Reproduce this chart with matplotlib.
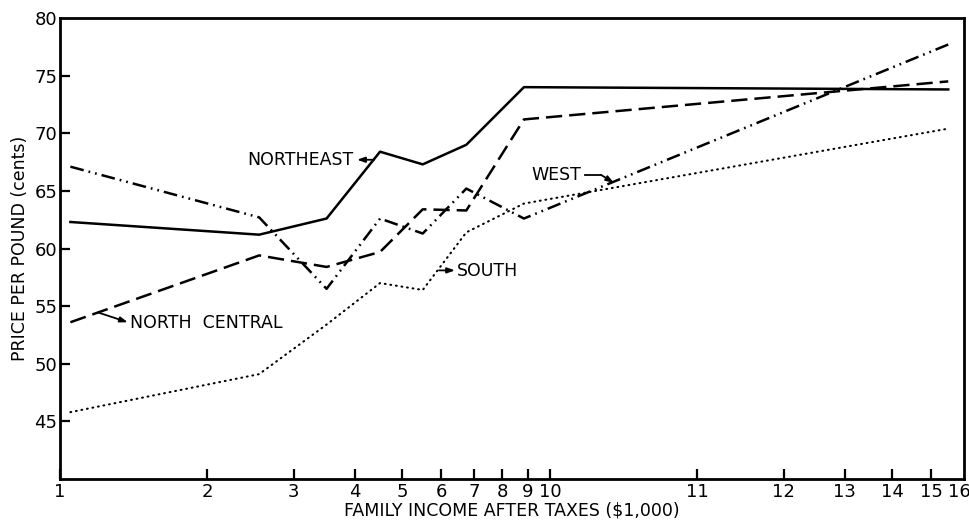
"""Price per pound vs. family income after taxes, by region."""
import matplotlib

matplotlib.use("Agg")
import matplotlib.pyplot as plt
from matplotlib.ticker import FixedLocator, FixedFormatter, NullLocator
from matplotlib.transforms import ScaledTranslation

# income class midpoints ($1,000) -- the axis is logarithmic
income = [1.05, 2.55, 3.5, 4.5, 5.5, 6.75, 8.85, 65]

northeast = [62.3, 61.2, 62.6, 68.4, 67.3, 69.0, 74.0, 73.8]
north_central = [53.6, 59.4, 58.4, 59.7, 63.4, 63.3, 71.2, 74.5]
west = [67.1, 62.7, 56.5, 62.6, 61.3, 65.2, 62.6, 77.7]
south = [45.8, 49.1, 53.4, 57.0, 56.4, 61.4, 63.9, 70.4]

# tick positions on the log axis and the labels printed under them
x_ticks = [1, 2, 3, 4, 5, 6, 7, 8, 9, 10, 20, 30, 40, 50, 60, 70]
x_labels = ["1", "2", "3", "4", "5", "6", "7", "8", "9", "10",
            "11", "12", "13", "14", "15", "16"]
y_ticks = [45, 50, 55, 60, 65, 70, 75, 80]

plt.rcParams["font.family"] = "DejaVu Sans"

fig = plt.figure(figsize=(9.69, 5.2), dpi=100)
ax = fig.add_axes([60 / 969, 41 / 520, 904 / 969, 461 / 520])

lw = 1.8
ax.plot(income, northeast, color="black", lw=lw)
ax.plot(income, north_central, color="black", lw=lw, linestyle=(0, (6.5, 2.8)))
ax.plot(income, west, color="black", lw=lw,
        linestyle=(0, (5.5, 2, 0.7, 2, 0.7, 2)))
ax.plot(income, south, color="black", lw=1.5, linestyle=(0, (0.4, 2.3)),
        dash_capstyle="round")

ax.set_xscale("log")
ax.set_xlim(1, 70)
ax.set_ylim(40, 80)
ax.xaxis.set_major_locator(FixedLocator(x_ticks))
ax.xaxis.set_major_formatter(FixedFormatter(x_labels))
ax.xaxis.set_minor_locator(NullLocator())
ax.set_yticks(y_ticks)

ax.tick_params(axis="both", direction="in", length=7, width=1.6,
               labelsize=13, colors="black")
ax.tick_params(axis="x", pad=3)
ax.tick_params(axis="y", pad=2)
# no tick mark at the right edge (16) or the top (80)
ax.xaxis.get_major_ticks()[-1].tick1line.set_visible(False)
ax.yaxis.get_major_ticks()[-1].tick1line.set_visible(False)

for s in ax.spines.values():
    s.set_linewidth(2.0)

ax.set_xlabel("FAMILY INCOME AFTER TAXES ($1,000)", fontsize=12.5, labelpad=0)
ax.set_ylabel("PRICE PER POUND (cents)", fontsize=12.5, labelpad=4)

label_kw = dict(fontsize=12.5, va="center", color="black")
arrow_kw = dict(arrowstyle="-|>,head_length=0.45,head_width=0.16",
                color="black", lw=1.3, shrinkA=0, shrinkB=0)

# region labels with leader arrows
ax.text(3.97, 67.7, "NORTHEAST", ha="right", **label_kw)
ax.annotate("", xy=(4.04, 67.7), xytext=(4.38, 67.7), arrowprops=arrow_kw)

ax.text(11.6, 66.4, "WEST", ha="right", **label_kw)
ax.plot([11.8, 12.7], [66.4, 66.4], color="black", lw=1.3)
ax.annotate("", xy=(13.5, 65.7), xytext=(12.7, 66.4), arrowprops=arrow_kw)

ax.text(6.46, 58.05, "SOUTH", ha="left", **label_kw)
ax.annotate("", xy=(6.40, 58.1), xytext=(5.94, 58.1), arrowprops=arrow_kw)

ax.text(1.39, 53.55, "NORTH  CENTRAL", ha="left", **label_kw)
ax.annotate("", xy=(1.375, 53.6), xytext=(1.196, 54.45), arrowprops=arrow_kw)

# keep the last income label ("16") inside the canvas
fig.canvas.draw()
last = ax.get_xticklabels()[-1]
last.set_transform(last.get_transform()
                   + ScaledTranslation(-5 / 100, 0, fig.dpi_scale_trans))

fig.savefig("out.png", dpi=100)
